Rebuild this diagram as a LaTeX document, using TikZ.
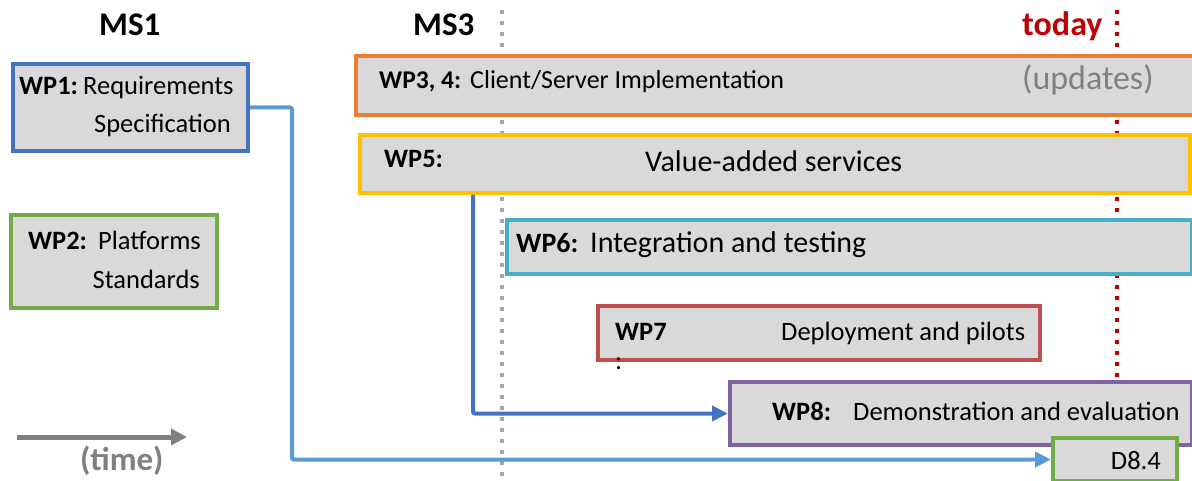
\documentclass[tikz,border=0pt]{standalone}
\usepackage{fontspec}
\setmainfont{Carlito}
\usetikzlibrary{arrows.meta}
\definecolor{boxfill}{HTML}{D9D9D9}
\definecolor{cblue}{HTML}{4472C4}
\definecolor{lblue}{HTML}{5B9BD5}
\definecolor{cgreen}{HTML}{70AD47}
\definecolor{corange}{HTML}{ED7D31}
\definecolor{cyellow}{HTML}{FFC000}
\definecolor{cteal}{HTML}{4BACC6}
\definecolor{cred}{HTML}{C0504D}
\definecolor{cpurple}{HTML}{8064A2}
\definecolor{dotgray}{HTML}{A6A6A6}
\definecolor{todayred}{HTML}{C00000}
\definecolor{timegray}{HTML}{808080}
\tikzset{
  wpbox/.style={draw=#1, line width=4pt, fill=boxfill, inner sep=0pt, outer sep=2pt, anchor=north west},
  txt/.style={inner sep=0pt, anchor=base west, font=\fontsize{#1}{#1}\selectfont},
  txt/.default=26.5,
  rtxt/.style={inner sep=0pt, anchor=base east, font=\fontsize{#1}{#1}\selectfont},
  rtxt/.default=26.5,
  btxt/.style={inner sep=0pt, anchor=base west, font=\fontsize{#1}{#1}\selectfont\bfseries},
  btxt/.default=26.5,
  msline/.style={draw=#1, line width=4pt, dash pattern=on 4pt off 7pt},
  conn/.style={draw=#1, line width=4pt, rounded corners=2pt, -{Triangle[length=16pt,width=15pt]}},
}
\begin{document}
\begin{tikzpicture}[x=1pt,y=-1pt]
\useasboundingbox (0,0) rectangle (1192,481);
% milestone lines
\coordinate (ms3top) at (502,10);
\coordinate (ms3bot) at (502,481);
\coordinate (todaytop) at (1117,10);
\coordinate (todaybot) at (1117,378);
\draw[msline=dotgray] (ms3top) -- (ms3bot);
\draw[msline=todayred] (todaytop) -- (todaybot);
% headings
\node[btxt=33] (ms1) at (99,36) {MS1};
\node[btxt=33] (ms3) at (413,36) {MS3};
\node[btxt=34, text=todayred] (today) at (1022,36) {today};
% boxes
\node[wpbox=cblue, minimum width=235pt, minimum height=87pt] (wp1) at (11,62) {};
\node[wpbox=cgreen, minimum width=206pt, minimum height=93pt] (wp2) at (9,213) {};
\node[wpbox=corange, minimum width=846pt, minimum height=59pt] (wp34) at (354,54) {};
\node[wpbox=cyellow, minimum width=830pt, minimum height=58pt] (wp5) at (358,133) {};
\node[wpbox=cteal, minimum width=685pt, minimum height=54pt] (wp6) at (505,218) {};
\node[wpbox=cred, minimum width=442pt, minimum height=54pt] (wp7) at (596,304) {};
\node[wpbox=cpurple, minimum width=462pt, minimum height=63pt] (wp8) at (728,380) {};
\node[wpbox=cgreen, minimum width=124pt, minimum height=43pt] (d84) at (1051,436) {};
% texts
\node[btxt] (wp1a) at (19,95) {WP1:};
\node[txt] (wp1b) at (83,95) {Requirements};
\node[rtxt] (wp1c) at (231,133) {Specification};
\node[btxt] (wp2a) at (28,250) {WP2:};
\node[txt] (wp2b) at (98,250) {Platforms};
\node[rtxt] (wp2c) at (200,288) {Standards};
\node[btxt=25.5] (wp34a) at (379,89) {WP3, 4:};
\node[txt=26] (wp34b) at (470,89) {Client/Server Implementation};
\node[txt=34, text=timegray] (upd) at (1022,90) {(updates)};
\node[btxt] (wp5a) at (384,168) {WP5:};
\node[txt=30] (wp5b) at (645,172) {Value-added services};
\node[btxt=28] (wp6a) at (516,253) {WP6:};
\node[txt=30] (wp6b) at (590,253) {Integration and testing};
\node[btxt] (wp7a) at (615,340) {WP7};
\node[txt] (wp7b) at (781,340) {Deployment and pilots};
\node[txt] (colon) at (615,369) {:};
\node[btxt] (wp8a) at (772,420) {WP8:};
\node[txt] (wp8b) at (853,420) {Demonstration and evaluation};
\node[rtxt] (d84t) at (1161,469) {D8.4};
% time arrow
\coordinate (t1) at (17,437);
\coordinate (t2) at (187,437);
\draw[draw=timegray, line width=5pt, -{Triangle[length=16pt,width=16pt]}] (t1) -- (t2);
\node[btxt=33, text=timegray] (time) at (80,470) {(time)};
% connectors
\draw[conn=lblue] (wp1.east) -- ++(42,0) |- (d84.west);
\draw[conn=cblue] (wp5.south west) ++(115,0) |- (wp8.west);
\end{tikzpicture}
\end{document}
